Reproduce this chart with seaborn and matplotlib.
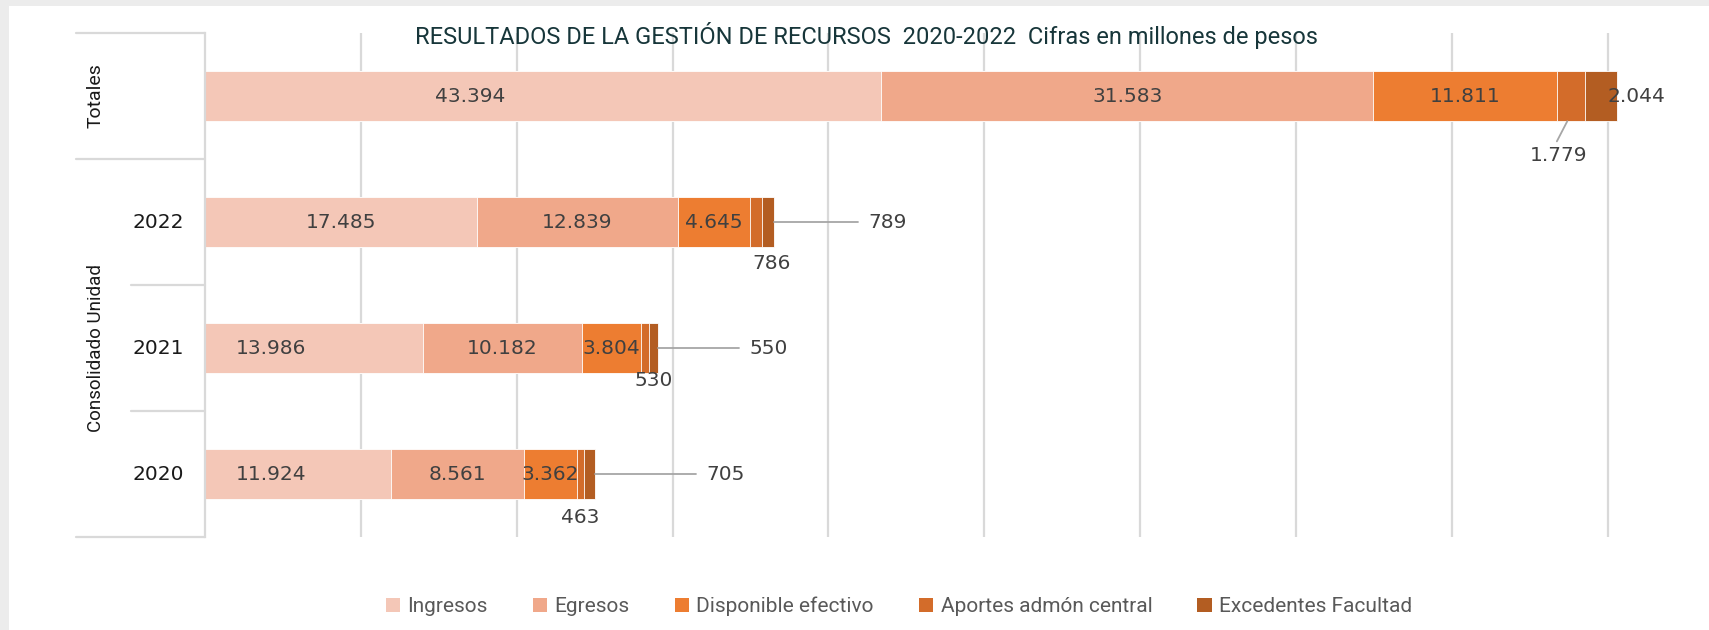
import matplotlib
matplotlib.use("Agg")
import matplotlib.pyplot as plt
from matplotlib.patches import Rectangle, Patch
import pandas as pd
import seaborn as sns

# --- data (millones de pesos) ---
categories = ["Totales", "2022", "2021", "2020"]
series = ["Ingresos", "Egresos", "Disponible efectivo",
          "Aportes admón central", "Excedentes Facultad"]
ingresos = [43394, 17485, 13986, 11924]
egresos = [31583, 12839, 10182, 8561]
disponible = [11811, 4645, 3804, 3362]
aportes = [1779, 786, 530, 463]
excedentes = [2044, 789, 550, 705]

colors = ["#F4C7B7", "#F0A88A", "#ED7D31", "#D36C2A", "#B35D22"]
title = "RESULTADOS DE LA GESTIÓN DE RECURSOS  2020-2022  Cifras en millones de pesos"

df = pd.DataFrame({"categoria": categories, "Ingresos": ingresos, "Egresos": egresos,
                   "Disponible efectivo": disponible, "Aportes admón central": aportes,
                   "Excedentes Facultad": excedentes})
cum = df[series].cumsum(axis=1)

narrow = ["Roboto", "DejaVu Sans"]
lbl_color = "#404040"
grid_color = "#d9d9d9"
lbl_size = 14.5


def fmt(v):
    return f"{v:,}".replace(",", ".")


sns.set_style("white")
fig = plt.figure(figsize=(17.09, 6.3), dpi=100)
fig.patch.set_facecolor("#ececec")
fig.add_artist(Rectangle((9 / 1709, 0), 1, 1 - 6 / 630, transform=fig.transFigure,
                         facecolor="white", edgecolor="none", zorder=-10))
ax = fig.add_axes([205 / 1709, 93 / 630, 1496 / 1709, 504 / 630])
ax.set_facecolor("none")

# stacked bars: draw cumulative totals from the longest down, each one on top
for s, c in reversed(list(zip(series, colors))):
    sns.barplot(x=cum[s], y=df["categoria"], order=categories, orient="h",
                color=c, saturation=1, width=0.4, errorbar=None,
                edgecolor="white", linewidth=0.6, ax=ax)

ax.set_xlim(0, 96000)
ax.set_xticks(range(10000, 90001, 10000))
ax.xaxis.grid(True, color=grid_color, lw=1.6)
ax.set_axisbelow(True)
ax.tick_params(length=0, labelbottom=False, labelleft=False)
ax.set_xlabel("")
ax.set_ylabel("")
for side in ["top", "right", "bottom"]:
    ax.spines[side].set_visible(False)
ax.spines["left"].set_color(grid_color)
ax.spines["left"].set_linewidth(1.6)

trans = ax.get_yaxis_transform()

# multi-level category axis
for i, cat in enumerate(categories[1:], start=1):
    ax.text(-0.0314, i, cat, transform=trans, ha="center", va="center",
            fontsize=14.5, color="#1a1a1a")
ax.text(-0.073, 0, "Totales", transform=trans, rotation=90, ha="center",
        va="center", fontsize=14, color="#1a1a1a", family=narrow)
ax.text(-0.073, 2, "Consolidado Unidad", transform=trans, rotation=90,
        ha="center", va="center", fontsize=13.5, color="#1a1a1a", family=narrow)
for yy, x0 in [(-0.5, -0.0862), (0.5, -0.0862), (1.5, -0.0495),
               (2.5, -0.0495), (3.5, -0.0862)]:
    ax.plot([x0, 0], [yy, yy], transform=trans, color=grid_color, lw=1.6,
            clip_on=False)

# labels inside the three big segments
ing_shift = [-4700, 0, -2730, -1750]
for j, s in enumerate(series[:3]):
    for i in range(len(categories)):
        v = df[s][i]
        x = cum[s][i] - v / 2 + (ing_shift[i] if j == 0 else 0)
        ax.text(x, i, fmt(v), ha="center", va="center", fontsize=lbl_size,
                color=lbl_color)

# aportes labels below the bar
apo_dx = [-800, 1000, 550, 0]
apo_dy = [0.47, 0.33, 0.26, 0.345]
for i in range(len(categories)):
    mid = cum[series[3]][i] - aportes[i] / 2
    ax.text(mid + apo_dx[i], i + apo_dy[i], fmt(aportes[i]), ha="center",
            va="center", fontsize=lbl_size, color=lbl_color)
ax.plot([87420, 86750], [0.2, 0.36], color="#a6a6a6", lw=1.3)

# excedentes labels to the right, with leader lines
ax.text(91850, 0, fmt(excedentes[0]), ha="center", va="center", fontsize=lbl_size,
        color=lbl_color)
exc_x = [None, 42600, 34950, 32200]
for i in range(1, len(categories)):
    end = cum[series[4]][i]
    ax.plot([end, exc_x[i] - 700], [i, i], color="#a6a6a6", lw=1.3)
    ax.text(exc_x[i], i, fmt(excedentes[i]), ha="left", va="center",
            fontsize=lbl_size, color=lbl_color)

ax.set_ylim(3.5, -0.5)

fig.text(0.507, 0.943, title, ha="center", va="center", fontsize=17,
         color="#17363a", family=narrow)

handles = [Patch(facecolor=c, edgecolor="none") for c in colors]
fig.legend(handles, series, loc="center", bbox_to_anchor=(0.526, 0.037), ncol=5,
           frameon=False, handlelength=0.7, handleheight=0.7, handletextpad=0.35,
           columnspacing=2.15, prop={"family": narrow, "size": 15},
           labelcolor="#595959")

fig.savefig("out.png", dpi=100)
